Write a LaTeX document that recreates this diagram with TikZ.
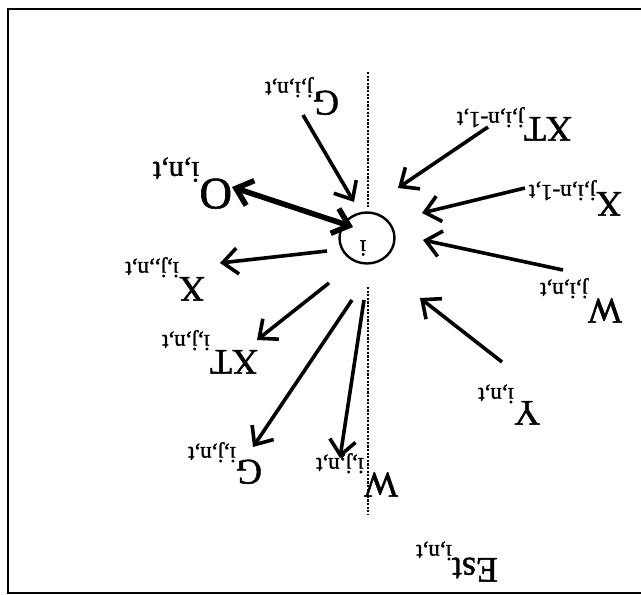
\documentclass[tikz,border=0pt]{standalone}
\usepackage{fontspec}
\setmainfont{Liberation Serif}
\newfontfamily\lblfont{Liberation Serif}[FakeBold=1.3]
\usetikzlibrary{arrows.meta,shapes.geometric}

% main symbol, subscript, drop of the subscript (pt)
\newcommand{\lbl}[3]{{\fontsize{36}{36}\selectfont #1}\raisebox{-#3pt}{\fontsize{23}{23}\selectfont #2}}

\begin{document}
\begin{tikzpicture}[x=1pt,y=-1pt,
  lab/.style={rotate=180, anchor=base west, inner sep=0pt, outer sep=0pt, font=\lblfont},
  flow/.style={line width=3.6pt, -{Straight Barb[length=15pt,width=26pt]}},
  both/.style={line width=5.5pt, {Straight Barb[length=15pt,width=26pt]}-{Straight Barb[length=15pt,width=26pt]}},
  divider/.style={line width=2.8pt, dash pattern=on 2.2pt off 1.4pt},
  frame/.style={line width=1.8pt}]

\useasboundingbox (0,0) rectangle (641,595);

% outer frame (open on the right)
\draw[frame] (641,9) -- (8,9) -- (8,593) -- (641,593);

% the firm
\node[draw, line width=2.4pt, ellipse, minimum width=55pt, minimum height=51pt, inner sep=0pt] (firm) at (367,238) {};
\node[rotate=180, inner sep=0pt, font=\lblfont\fontsize{23}{23}\selectfont] (firmlab) at (363,248) {i};

% labels
\node[lab] (Gji)   at (339,91)  {\lbl{G}{j,i,n,t}{9}};
\node[lab] (XTji)  at (572,117) {\lbl{XT}{j,i,n-1,t}{5}};
\node[lab] (Xji)   at (622,192) {\lbl{X}{j,i,n-1,t}{7}};
\node[lab] (Wji)   at (622,299) {\lbl{W}{j,i,n,t}{16}};
\node[lab] (Y)     at (540,401) {\lbl{Y}{i,n,t}{13}};
\node[lab] (Est)   at (498,558) {\lbl{Est}{i,n,t}{13}};
\node[lab] (O)     at (232,179) {{\fontsize{45}{45}\selectfont O}\raisebox{-17pt}{\fontsize{30}{30}\selectfont i,n,t}};
\node[lab] (Xij)   at (205,277) {\lbl{X}{i,j,,n,t}{15}};
\node[lab] (XTij)  at (258,350) {\lbl{XT}{i,j,n,t}{15}};
\node[lab] (Gij)   at (262,460) {\lbl{G}{i,j,n,t}{13}};
\node[lab] (Wij)   at (398,473) {\lbl{W}{i,j,n,t}{15}};

% arrow end points
\coordinate (gji-s)  at (303,115); \coordinate (gji-e)  at (354,202);
\coordinate (o-s)    at (232,187); \coordinate (o-e)    at (353,227);
\coordinate (xij-s)  at (327,251); \coordinate (xij-e)  at (220,263);
\coordinate (xtij-s) at (329,283); \coordinate (xtij-e) at (257,340);
\coordinate (gij-s)  at (352,300); \coordinate (gij-e)  at (253,447);
\coordinate (wij-s)  at (364,300); \coordinate (wij-e)  at (340,458);
\coordinate (y-s)    at (502,362); \coordinate (y-e)    at (420,298);
\coordinate (wji-s)  at (563,270); \coordinate (wji-e)  at (423,240);
\coordinate (xji-s)  at (525,188); \coordinate (xji-e)  at (422,213);
\coordinate (xtji-s) at (488,127); \coordinate (xtji-e) at (398,188);

% flows into the firm
\draw[flow] (gji-s)  -- (gji-e);
\draw[flow] (xtji-s) -- (xtji-e);
\draw[flow] (xji-s)  -- (xji-e);
\draw[flow] (wji-s)  -- (wji-e);
\draw[flow] (y-s)    -- (y-e);

% flows out of the firm
\draw[flow] (xij-s)  -- (xij-e);
\draw[flow] (xtij-s) -- (xtij-e);
\draw[flow] (gij-s)  -- (gij-e);
\draw[flow] (wij-s)  -- (wij-e);

% exchange with O
\draw[both] (o-s) -- (o-e);

% dividing line
\coordinate (d1) at (368,72);  \coordinate (d2) at (368,208);
\coordinate (d3) at (368,287); \coordinate (d4) at (368,514);
\draw[divider] (d1) -- (d2);
\draw[divider] (d3) -- (d4);

\end{tikzpicture}
\end{document}
